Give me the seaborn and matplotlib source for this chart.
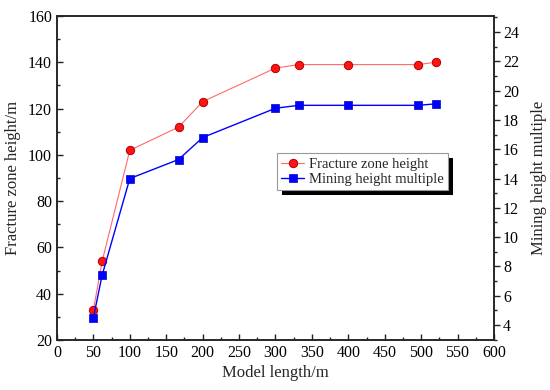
import matplotlib
matplotlib.use("Agg")
import matplotlib.pyplot as plt
import seaborn as sns
import pandas as pd
from matplotlib.patches import Rectangle
from matplotlib.ticker import MultipleLocator
from matplotlib.transforms import IdentityTransform

model_length = [50, 62, 100, 167, 200, 300, 332, 400, 496, 520]
fracture_height = [33, 54, 102, 112, 123, 137.5, 139, 139, 139, 140]
height_multiple = [4.5, 7.4, 14.0, 15.3, 16.8, 18.8, 19.0, 19.0, 19.0, 19.1]

df = pd.DataFrame({"x": model_length, "h": fracture_height, "m": height_multiple})

sns.set_style("ticks")
plt.rcParams["font.family"] = ["Liberation Serif", "DejaVu Serif"]
plt.rcParams["mathtext.fontset"] = "stix"

fig = plt.figure(figsize=(5.5, 3.9), dpi=100)
ax = fig.add_axes([0.1036, 0.128, 0.7945, 0.831])
ax2 = ax.twinx()

sns.lineplot(data=df, x="x", y="h", ax=ax, color="#ff6a6a", lw=0.8,
             marker="o", markersize=6, markerfacecolor="#ff1414",
             markeredgecolor="#b00000", markeredgewidth=0.7,
             label="Fracture zone height", legend=False)
sns.lineplot(data=df, x="x", y="m", ax=ax2, color="#0000ff", lw=1.0,
             marker="s", markersize=5.3, markerfacecolor="#0000ff",
             markeredgecolor="#0000cc", markeredgewidth=0.5,
             label="Mining height multiple", legend=False)

ax.set_xlim(0, 600)
ax.set_ylim(20, 160)
ax2.set_ylim(2.97, 25.1)

ax.xaxis.set_major_locator(MultipleLocator(50))
ax.xaxis.set_minor_locator(MultipleLocator(25))
ax.yaxis.set_major_locator(MultipleLocator(20))
ax.yaxis.set_minor_locator(MultipleLocator(10))
ax2.yaxis.set_major_locator(MultipleLocator(2))
ax2.yaxis.set_minor_locator(MultipleLocator(1))
ax2.set_yticks(list(range(4, 25, 2)))

fs = 11.5
ax.tick_params(axis="both", which="both", direction="in", labelsize=fs,
               top=False, right=False, width=1.0, colors="#222222", labelcolor="black")
ax.tick_params(which="major", length=4.5)
ax.tick_params(which="minor", length=2.5)
ax2.tick_params(axis="y", which="both", direction="out", labelsize=fs, width=1.0,
                colors="#222222", labelcolor="black")
ax2.tick_params(which="major", length=4.5, pad=2)
ax2.tick_params(which="minor", length=2.5)

for a in (ax, ax2):
    for s in a.spines.values():
        s.set_visible(True)
        s.set_linewidth(1.1)
        s.set_color("#222222")

ax.set_xlabel("Model length/m", fontsize=12, labelpad=3)
ax.set_ylabel("Fracture zone height/m", fontsize=12, labelpad=5)
ax2.set_ylabel("Mining height multiple", fontsize=12, labelpad=9)

h1, l1 = ax.get_legend_handles_labels()
h2, l2 = ax2.get_legend_handles_labels()
leg = ax2.legend(h1 + h2, l1 + l2, loc="upper left", bbox_to_anchor=(0.503, 0.577),
                 frameon=True, fancybox=False, edgecolor="#999999", framealpha=1,
                 fontsize=10.5, handlelength=1.6, handletextpad=0.3,
                 borderpad=0.3, labelspacing=0.15, borderaxespad=0)
leg.get_frame().set_linewidth(0.8)
leg.set_zorder(10)

fig.canvas.draw()
bb = leg.get_window_extent()
shadow = Rectangle((bb.x0 + 5, bb.y0 - 5), bb.width, bb.height, transform=IdentityTransform(),
                   facecolor="black", edgecolor="none", zorder=9, clip_on=False)
ax2.add_artist(shadow)

fig.savefig("out.png", dpi=100)
